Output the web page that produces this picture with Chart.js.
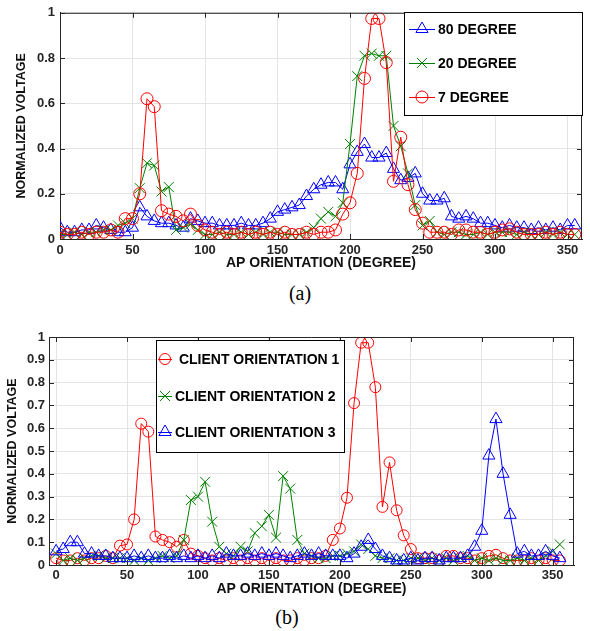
<!DOCTYPE html>
<html>
<head>
<meta charset="utf-8">
<script src="https://cdn.jsdelivr.net/npm/chart.js@4.4.0/dist/chart.umd.min.js"></script>
<style>
    body { margin: 0; background: #fff; }
    #wrap { position: relative; width: 590px; height: 631px; }
    canvas { position: absolute; left: 0; }
    .cap { position: absolute; font-family: "Liberation Serif", serif; font-size: 20px; color: #000; transform: translate(-50%, -50%); }
</style>
</head>
<body>
<div id="wrap">
    <canvas id="chartA" width="590" height="280" style="top:0"></canvas>
    <div class="cap" style="left:300px;top:293px">(a)</div>
    <canvas id="chartB" width="590" height="280" style="top:325px"></canvas>
    <div class="cap" style="left:287px;top:617px">(b)</div>
</div>
<script>
// AP orientation samples, every 5 degrees
const angles = [0,5,10,15,20,25,30,35,40,45,50,55,60,65,70,75,80,85,90,95,
    100,105,110,115,120,125,130,135,140,145,150,155,160,165,170,175,180,185,190,195,
    200,205,210,215,220,225,230,235,240,245,250,255,260,265,270,275,280,285,290,295,
    300,305,310,315,320,325,330,335,340,345,350,355];

// (a) client beamwidths
const deg80 = [.05,.03,.03,.04,.04,.06,.05,.04,.03,.03, .05,.14,.10,.08,.07,.07,.06,.05,.09,.08,
    .07,.07,.06,.06,.06,.07,.06,.06,.07,.09, .12,.13,.14,.15,.19,.22,.24,.25,.25,.22,
    .33,.385,.42,.36,.36,.38,.31,.26,.27,.29, .20,.17,.17,.18,.10,.09,.10,.09,.07,.07,
    .06,.05,.06,.05,.05,.04,.05,.04,.05,.04, .06,.06];
const deg20 = [.02,.02,.03,.02,.03,.03,.04,.04,.06,.07, .09,.225,.335,.325,.21,.23,.04,.05,.065,.04,
    .02,.02,.03,.02,.02,.03,.02,.03,.02,.03, .03,.02,.02,.02,.03,.05,.09,.12,.10,.16,
    .42,.72,.81,.82,.81,.81,.50,.41,.29,.15, .06,.08,.03,.02,.03,.03,.02,.02,.03,.02,
    .03,.03,.03,.02,.03,.02,.02,.03,.02,.03, .02,.02];
const deg7 = [.03,.02,.02,.03,.02,.03,.03,.04,.03,.09, .09,.20,.62,.585,.125,.11,.10,.08,.11,.06,
    .04,.03,.02,.03,.02,.03,.02,.03,.02,.03, .02,.03,.02,.02,.03,.02,.03,.03,.04,.11,
    .16,.29,.71,.975,.975,.78,.255,.45,.24,.13, .07,.03,.03,.03,.02,.04,.04,.03,.03,.02,
    .03,.04,.045,.03,.02,.02,.02,.03,.02,.03, .02,.02];

// (b) client orientations
const client1 = [.03,.02,.02,.03,.02,.03,.03,.04,.03,.085, .09,.20,.62,.585,.125,.11,.10,.08,.11,.05,
    .04,.03,.02,.03,.02,.03,.02,.03,.02,.03, .02,.03,.02,.02,.03,.02,.03,.03,.04,.11,
    .16,.295,.71,.975,.975,.78,.255,.45,.24,.13, .07,.03,.03,.03,.02,.04,.04,.03,.03,.02,
    .03,.04,.045,.03,.02,.02,.02,.03,.02,.03, .02,.02];
const client2 = [.05,.02,.03,.02,.03,.04,.04,.03,.03,.03, .03,.02,.03,.02,.03,.04,.03,.04,.11,.285,
    .30,.365,.19,.08,.05,.04,.08,.06,.14,.17, .22,.12,.39,.335,.11,.05,.04,.03,.03,.04,
    .04,.05,.06,.09,.07,.04,.03,.03,.02,.02, .03,.03,.02,.03,.02,.03,.02,.03,.04,.02,
    .03,.02,.03,.02,.02,.03,.02,.03,.02,.04, .06,.09];
const client3 = [.06,.07,.10,.10,.05,.05,.04,.04,.03,.03, .03,.04,.03,.04,.03,.03,.04,.03,.04,.03,
    .04,.03,.04,.03,.05,.04,.04,.05,.04,.05, .04,.05,.04,.03,.04,.05,.04,.05,.04,.04,
    .04,.03,.05,.08,.11,.07,.04,.03,.02,.02, .03,.02,.03,.03,.02,.03,.03,.03,.04,.08,
    .15,.48,.64,.40,.22,.05,.06,.04,.04,.06, .04,.03];

const xTicks = [0, 50, 100, 150, 200, 250, 300, 350];
const yTicksA = [0, 0.2, 0.4, 0.6, 0.8, 1];
const yTicksB = [0, 0.1, 0.2, 0.3, 0.4, 0.5, 0.6, 0.7, 0.8, 0.9, 1];

const RED = '#ff0000', GREEN = '#008000', BLUE = '#0000ff';
const AXIS = '#262626';

function pts(vals) {
    return angles.map((a, i) => ({ x: a, y: vals[i] }));
}

function series(label, vals, color, style, radius) {
    return {
        label: label,
        data: pts(vals),
        borderColor: color,
        borderWidth: 1,
        pointStyle: style,
        pointRadius: radius,
        pointBorderColor: color,
        pointBackgroundColor: 'rgba(0,0,0,0)',
        pointBorderWidth: 1,
        tension: 0,
        markerColor: color
    };
}

function mark(ctx, style, radius, x, y, color) {
    ctx.save();
    ctx.strokeStyle = color;
    ctx.fillStyle = 'rgba(0,0,0,0)';
    ctx.lineWidth = 1;
    Chart.helpers.drawPoint(ctx, { pointStyle: style, radius: radius, rotation: 0, borderWidth: 1 }, x, y);
    ctx.restore();
}

// box around the axes with inward ticks, plus an in-plot legend
const framePlugin = {
    id: 'frame',
    afterDatasetsDraw(chart, args, opts) {
        const { ctx, chartArea: a, scales } = chart;
        ctx.save();
        ctx.strokeStyle = AXIS;
        ctx.lineWidth = 1;
        ctx.beginPath();
        ctx.moveTo(a.left, a.top + 0.5);
        ctx.lineTo(a.right, a.top + 0.5);
        ctx.moveTo(a.right - 0.5, a.top);
        ctx.lineTo(a.right - 0.5, a.bottom);
        scales.x.ticks.forEach(t => {
            const px = Math.round(scales.x.getPixelForValue(t.value)) + 0.5;
            ctx.moveTo(px, a.bottom); ctx.lineTo(px, a.bottom - 5);
            ctx.moveTo(px, a.top); ctx.lineTo(px, a.top + 5);
        });
        scales.y.ticks.forEach(t => {
            const py = Math.round(scales.y.getPixelForValue(t.value)) + 0.5;
            ctx.moveTo(a.left, py); ctx.lineTo(a.left + 5, py);
            ctx.moveTo(a.right, py); ctx.lineTo(a.right - 5, py);
        });
        ctx.stroke();
        ctx.restore();
    },
    afterDraw(chart, args, opts) {
        const lg = opts.legend;
        if (!lg) return;
        const ctx = chart.ctx;
        ctx.save();
        ctx.fillStyle = '#fff';
        ctx.fillRect(lg.box[0], lg.box[1], lg.box[2] - lg.box[0], lg.box[3] - lg.box[1]);
        ctx.strokeStyle = '#000';
        ctx.lineWidth = 1;
        ctx.strokeRect(lg.box[0] + 0.5, lg.box[1] + 0.5, lg.box[2] - lg.box[0] - 1, lg.box[3] - lg.box[1] - 1);
        ctx.font = 'bold 14px "Liberation Sans", Arial, sans-serif';
        ctx.textBaseline = 'middle';
        ctx.textAlign = 'left';
        lg.items.forEach(it => {
            const ds = chart.data.datasets[it.ds];
            ctx.strokeStyle = ds.borderColor;
            ctx.beginPath();
            ctx.moveTo(lg.line[0], it.y + 0.5);
            ctx.lineTo(lg.line[1], it.y + 0.5);
            ctx.stroke();
            mark(ctx, ds.pointStyle, ds.pointRadius, (lg.line[0] + lg.line[1]) / 2, it.y, ds.borderColor);
            ctx.fillStyle = '#000';
            ctx.fillText(ds.label, it.tx, it.y + 1);
        });
        ctx.restore();
    }
};

function tickFont(size) {
    return { family: '"Liberation Sans", Arial, sans-serif', weight: 'bold', size: size };
}

function makeChart(id, datasets, cfg) {
    return new Chart(document.getElementById(id), {
        type: 'line',
        data: { datasets: datasets },
        plugins: [framePlugin],
        options: {
            responsive: false,
            animation: false,
            devicePixelRatio: 1,
            layout: { padding: { left: 0, top: 12, right: cfg.padRight, bottom: 0 } },
            plugins: {
                legend: { display: false },
                tooltip: { enabled: false },
                frame: { legend: cfg.legend }
            },
            scales: {
                x: {
                    type: 'linear',
                    min: cfg.xMin,
                    max: cfg.xMax,
                    afterBuildTicks: s => { s.ticks = xTicks.map(v => ({ value: v })); },
                    afterFit: s => { s.height = cfg.xHeight; },
                    grid: { color: '#e4e4e4', drawTicks: false },
                    border: { color: AXIS },
                    ticks: { padding: cfg.xTickPad, color: AXIS, font: tickFont(13), maxRotation: 0, autoSkip: false,
                        callback: v => String(v) },
                    title: { display: true, text: 'AP ORIENTATION (DEGREE)', color: '#111', font: tickFont(14),
                        padding: { top: 0, bottom: cfg.xTitlePad } }
                },
                y: {
                    min: 0,
                    max: 1,
                    afterBuildTicks: s => { s.ticks = cfg.yTicks.map(v => ({ value: v })); },
                    afterFit: s => { s.width = cfg.yWidth; },
                    grid: { color: '#e4e4e4', drawTicks: false },
                    border: { color: AXIS },
                    ticks: { padding: cfg.yTickPad, color: AXIS, font: tickFont(13), autoSkip: false,
                        callback: v => String(+(+v).toFixed(2)) },
                    title: { display: true, text: 'NORMALIZED VOLTAGE', color: '#111', font: tickFont(12.5),
                        padding: { top: cfg.yTitlePad, bottom: 0 } }
                }
            }
        }
    });
}

// (a): 7 degree plotted last, so it sits on top
makeChart('chartA', [
    series('7 DEGREE', deg7, RED, 'circle', 6),
    series('20 DEGREE', deg20, GREEN, 'crossRot', 7),
    series('80 DEGREE', deg80, BLUE, 'triangle', 7)
], {
    xMin: 0, xMax: 360, padRight: 7, xHeight: 41, yWidth: 60,
    xTickPad: 4, xTitlePad: 8, yTickPad: 5, yTitlePad: 14.5, yTicks: yTicksA,
    legend: {
        box: [404, 12, 583, 116],
        line: [409, 435],
        items: [{ ds: 2, y: 29, tx: 438 }, { ds: 1, y: 63, tx: 438 }, { ds: 0, y: 97, tx: 438 }]
    }
});

// (b): orientation 3 plotted last
makeChart('chartB', [
    series('CLIENT ORIENTATION 3', client3, BLUE, 'triangle', 7),
    series('CLIENT ORIENTATION 2', client2, GREEN, 'crossRot', 7),
    series(' CLIENT ORIENTATION 1', client1, RED, 'circle', 5.5)
], {
    xMin: -5, xMax: 365, padRight: 16, xHeight: 40, yWidth: 49,
    xTickPad: 3, xTitlePad: 7, yTickPad: 4, yTitlePad: 5, yTicks: yTicksB,
    legend: {
        box: [156, 15, 345, 128],
        line: [158, 172],
        items: [{ ds: 2, y: 34, tx: 175 }, { ds: 1, y: 71, tx: 175 }, { ds: 0, y: 107, tx: 175 }]
    }
});
</script>
</body>
</html>
